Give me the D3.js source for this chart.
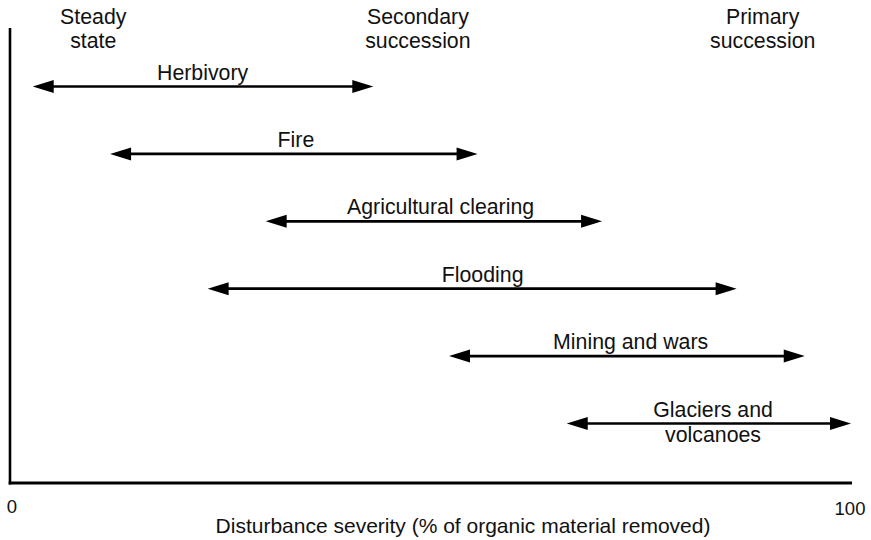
<!DOCTYPE html>
<html>
<head>
<meta charset="utf-8">
<script src="https://cdn.jsdelivr.net/npm/d3@7/dist/d3.min.js"></script>
<style>
  html, body { margin: 0; padding: 0; background: #fff; }
  svg { display: block; }
  text { font-family: "Liberation Sans", Arial, Helvetica, sans-serif; fill: #111; }
</style>
</head>
<body>
<svg id="chart" width="871" height="540"></svg>
<script>
// Disturbance types and the range of severity each one covers (% of organic material removed)
const disturbances = ["Herbivory", "Fire", "Agricultural clearing", "Flooding", "Mining and wars", "Glaciers and\nvolcanoes"];
const severityMin = [2.7, 11.9, 30.4, 23.5, 52.2, 66.2];
const severityMax = [43.2, 55.6, 70.4, 86.4, 94.5, 100];
const labelAt = [22.9, 34.0, 51.2, 56.2, 73.8, 83.6];

// Successional outcome headings along the top
const stages = ["Steady\nstate", "Secondary\nsuccession", "Primary\nsuccession"];
const stageAt = [9.9, 48.5, 89.5];

// Axis end labels
const tickValues = [0, 100];
const axisTitle = "Disturbance severity (% of organic material removed)";

const svg = d3.select("#chart");

const x = d3.scaleLinear().domain([0, 100]).range([10, 851]);
const y = d3.scalePoint().domain(d3.range(disturbances.length)).range([86.5, 423.5]);

const axisTop = 28, axisBottom = 483;
const labelSize = 21.3;

// Axes: plain L-shaped frame
const axisG = svg.append("g");
axisG.append("line")
  .attr("x1", x(0)).attr("x2", x(0))
  .attr("y1", axisTop).attr("y2", axisBottom + 1.5)
  .attr("stroke", "#000").attr("stroke-width", 2.6);
axisG.append("line")
  .attr("x1", x(0) - 1.3).attr("x2", x(100) + 1)
  .attr("y1", axisBottom).attr("y2", axisBottom)
  .attr("stroke", "#000").attr("stroke-width", 3);

// End tick labels
svg.append("g").selectAll("text")
  .data(tickValues)
  .join("text")
  .attr("x", d => x(d) + (d === 0 ? 2 : -1))
  .attr("y", d => d === 0 ? 513 : 515)
  .attr("text-anchor", "middle")
  .attr("font-size", 18.5)
  .text(d => d);

// Axis title
svg.append("text")
  .attr("x", 463).attr("y", 533)
  .attr("text-anchor", "middle")
  .attr("font-size", 21)
  .text(axisTitle);

// Stage headings
const stageG = svg.append("g").selectAll("text")
  .data(stages)
  .join("text")
  .attr("x", (d, i) => x(stageAt[i]))
  .attr("y", 24)
  .attr("text-anchor", "middle")
  .attr("font-size", labelSize);
stageG.selectAll("tspan")
  .data(d => d.split("\n"))
  .join("tspan")
  .attr("x", function () { return d3.select(this.parentNode).attr("x"); })
  .attr("dy", (d, i) => i === 0 ? 0 : 24)
  .text(d => d);

// Double-headed range arrows
const headLen = 21, headHalf = 6.5;
const rows = svg.append("g").selectAll("g")
  .data(disturbances)
  .join("g");

rows.append("line")
  .attr("x1", (d, i) => x(severityMin[i]) + headLen - 2)
  .attr("x2", (d, i) => x(severityMax[i]) - headLen + 2)
  .attr("y1", (d, i) => y(i)).attr("y2", (d, i) => y(i))
  .attr("stroke", "#000").attr("stroke-width", 2.7);

rows.append("path")
  .attr("fill", "#000")
  .attr("d", (d, i) => {
    const a = x(severityMin[i]), b = x(severityMax[i]), yy = y(i);
    return `M${a},${yy}L${a + headLen},${yy - headHalf}L${a + headLen},${yy + headHalf}Z` +
           `M${b},${yy}L${b - headLen},${yy - headHalf}L${b - headLen},${yy + headHalf}Z`;
  });

// Labels over each arrow (the last one wraps around its arrow)
rows.each(function (d, i) {
  const lines = d.split("\n");
  const g = d3.select(this);
  const yy = y(i);
  lines.forEach((t, k) => {
    g.append("text")
      .attr("x", x(labelAt[i]))
      .attr("y", lines.length === 1 ? yy - 7 : (k === 0 ? yy - 7 : yy + 18))
      .attr("text-anchor", "middle")
      .attr("font-size", labelSize)
      .text(t);
  });
});
</script>
</body>
</html>
